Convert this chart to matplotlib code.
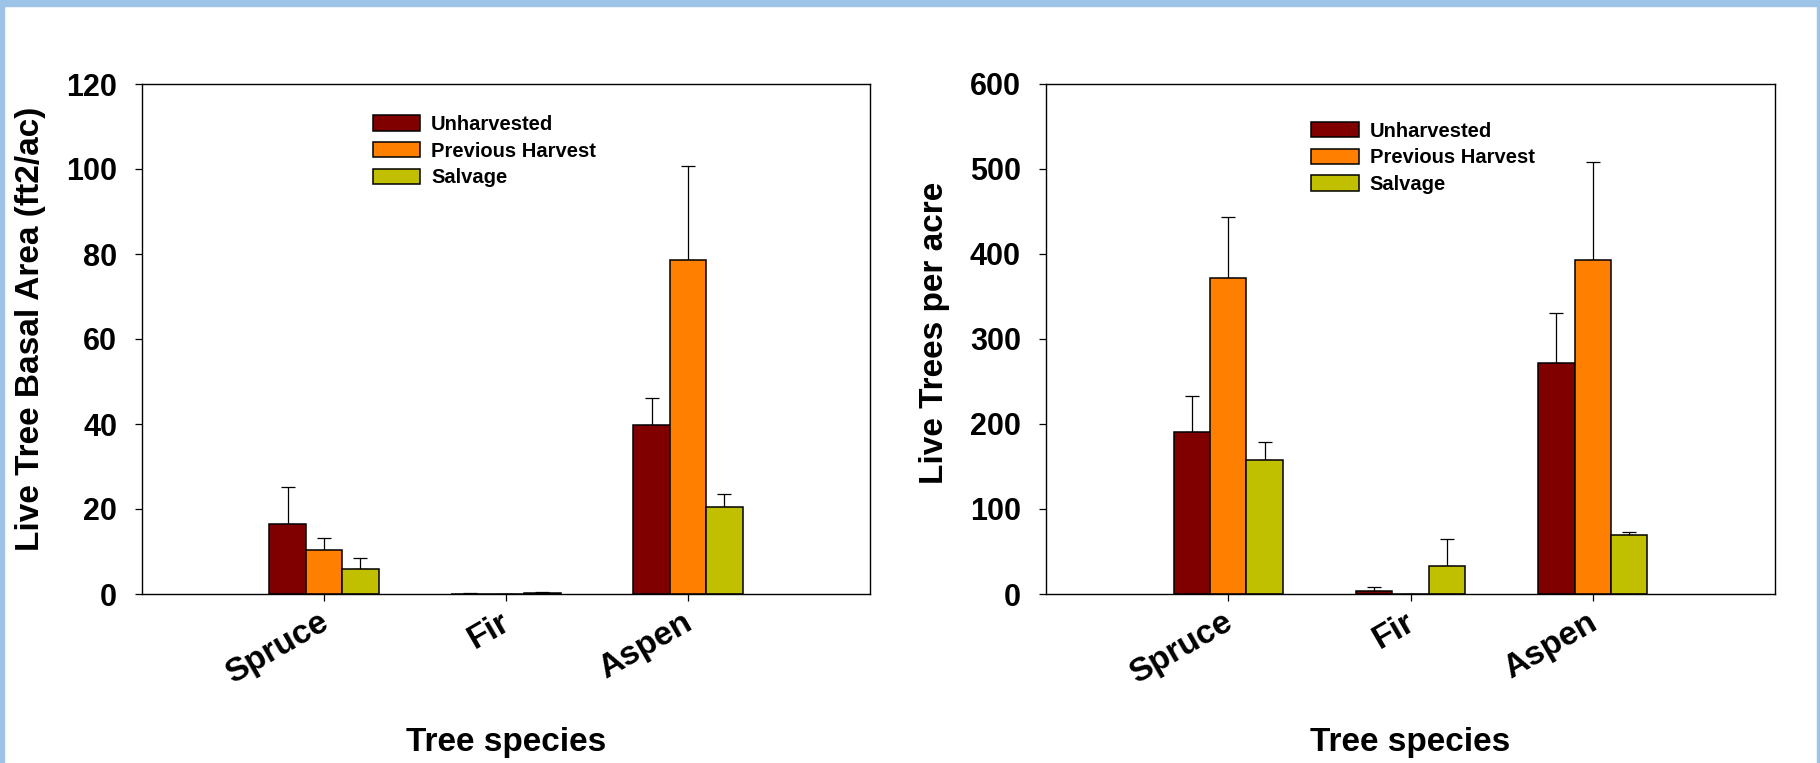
import matplotlib
matplotlib.use("Agg")
import matplotlib.pyplot as plt
import matplotlib.transforms as mtransforms
import numpy as np

plt.rcParams['font.family'] = ['Liberation Sans', 'DejaVu Sans']
plt.rcParams['font.weight'] = 'bold'

species = ['Spruce', 'Fir', 'Aspen']
groups = ['Unharvested', 'Previous Harvest', 'Salvage']
colors = ['#800000', '#FF8000', '#C0C000']

# basal area (ft2/ac): means and upper error
ba_mean = [[16.4, 0.1, 39.8],
           [10.3, 0.0, 78.7],
           [5.9, 0.2, 20.4]]
ba_err = [[8.8, 0.2, 6.4],
          [2.9, 0.0, 22.0],
          [2.6, 0.2, 3.1]]

# live trees per acre
tpa_mean = [[191, 4, 272],
            [372, 0, 393],
            [158, 33, 69]]
tpa_err = [[42, 4, 59],
           [71, 0, 115],
           [21, 32, 4]]

fig = plt.figure(figsize=(18.2, 7.63), dpi=100)

# light blue frame
fig.patches.append(plt.Rectangle((0, 1 - 6/763), 1, 6/763, transform=fig.transFigure,
                                 color='#9DC3E6', zorder=0))
fig.patches.append(plt.Rectangle((0, 0), 4/1820, 1, transform=fig.transFigure,
                                 color='#9DC3E6', zorder=0))
fig.patches.append(plt.Rectangle((1 - 3/1820, 0), 3/1820, 1, transform=fig.transFigure,
                                 color='#9DC3E6', zorder=0))

ax1 = fig.add_axes([142/1820, 1 - 594/763, 728/1820, 510/763])
ax2 = fig.add_axes([1046/1820, 1 - 594/763, 729/1820, 510/763])

x = np.arange(1, 4)
w = 0.2


def draw(ax, means, errs, ymax, ystep, ylabel, ylab_xy, leg_xy):
    for i in range(3):
        m = np.array(means[i])
        e = np.array(errs[i])
        ax.bar(x + (i - 1) * w, m, w, color=colors[i], edgecolor='black',
               linewidth=1.1, label=groups[i], zorder=2)
        ax.errorbar(x + (i - 1) * w, m, yerr=[np.zeros(3), e], fmt='none',
                    ecolor='black', elinewidth=0.9, capsize=5, capthick=0.9, zorder=1)
    ax.set_xlim(0, 4)
    ax.set_ylim(0, ymax)
    ax.set_yticks(np.arange(0, ymax + 1, ystep))
    ax.set_xticks(x)
    ax.set_xticklabels([])
    # rotated category labels, placed by hand just below each tick
    off = ax.get_xaxis_transform() + mtransforms.ScaledTranslation(
        -0.06, -0.127, fig.dpi_scale_trans)
    for xi, name in zip(x, species):
        ax.text(xi, 0, name, transform=off, rotation=30, ha='right', va='top',
                rotation_mode='anchor', fontsize=24, fontweight='bold')
    ax.tick_params(axis='y', labelsize=22, length=5, width=0.9, pad=13)
    ax.tick_params(axis='x', length=5, width=0.9)
    for s in ax.spines.values():
        s.set_linewidth(1.0)
    ax.set_ylabel(ylabel, fontsize=24, fontweight='bold')
    ax.yaxis.set_label_coords(*ylab_xy)
    ax.set_xlabel('Tree species', fontsize=24, fontweight='bold')
    ax.xaxis.set_label_coords(0.5, -0.26)
    ax.xaxis.label.set_va('top')
    ax.legend(loc='upper left', bbox_to_anchor=leg_xy, frameon=False,
              borderpad=0, borderaxespad=0,
              handlelength=2.35, handleheight=0.8, labelspacing=0.38,
              handletextpad=0.55, prop={'weight': 'bold', 'size': 14.5})


draw(ax1, ba_mean, ba_err, 120, 20, 'Live Tree Basal Area (ft2/ac)',
     (-0.132, 0.52), (0.317, 0.939))
draw(ax2, tpa_mean, tpa_err, 600, 100, 'Live Trees per acre',
     (-0.132, 0.512), (0.364, 0.926))

fig.savefig('out.png', dpi=100)
